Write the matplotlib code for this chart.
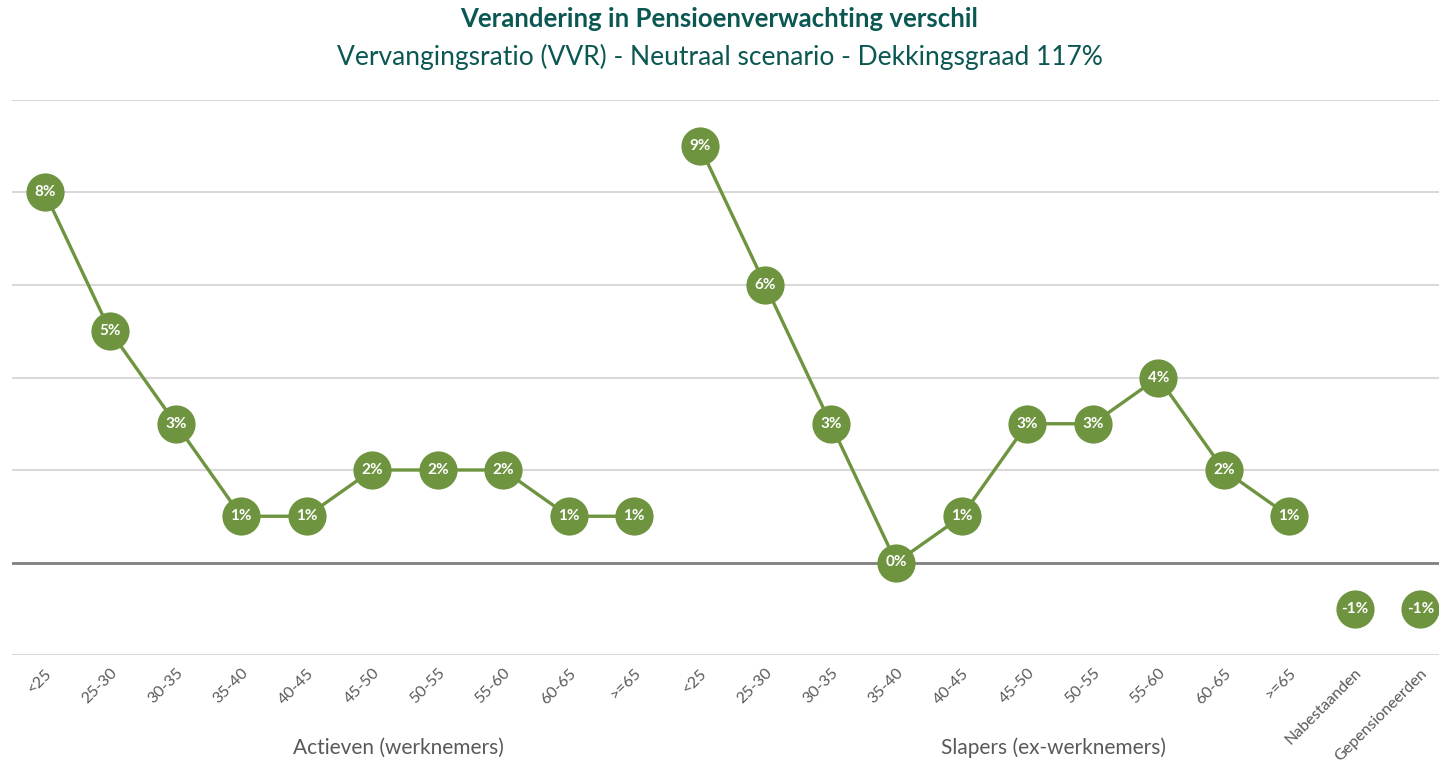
import matplotlib
matplotlib.use("Agg")
import matplotlib.pyplot as plt
import numpy as np

plt.rcParams['font.family'] = ['Lato', 'DejaVu Sans']

categories = ["<25", "25-30", "30-35", "35-40", "40-45", "45-50", "50-55", "55-60", "60-65", ">=65",
              "<25", "25-30", "30-35", "35-40", "40-45", "45-50", "50-55", "55-60", "60-65", ">=65",
              "Nabestaanden", "Gepensioneerden"]
actieven = [8, 5, 3, 1, 1, 2, 2, 2, 1, 1]
slapers = [9, 6, 3, 0, 1, 3, 3, 4, 2, 1]
nabestaanden = [-1]
gepensioneerden = [-1]
groups = ["Actieven (werknemers)", "Slapers (ex-werknemers)"]

GREEN = "#6E9440"
TEAL = "#0B5752"
W, H = 1439, 775
fig = plt.figure(figsize=(W / 100, H / 100), dpi=100)
left = 12 / W
ax = fig.add_axes([left, (H - 655) / H, 1441 / W, (655 - 100) / H])
ax.set_xlim(-0.5, len(categories) - 0.5)
ax.set_ylim(-2, 10)

for y in np.arange(-2, 11, 2):
    if y != 0:
        ax.axhline(y, color="#d9d9d9", lw=1.5, zorder=0)
ax.axhline(0, color="#808080", lw=2, zorder=1)

def series(xs, ys, line=True):
    ax.plot(xs, ys, color=GREEN, lw=2.4 if line else 0, marker="o", ms=27.5,
            markeredgewidth=0, zorder=3, clip_on=False)
    for x, y in zip(xs, ys):
        ax.text(x, y, f"{y}%", color="white", fontsize=11, fontweight="bold",
                ha="center", va="center", zorder=4)

n = len(actieven)
series(np.arange(n), actieven)
series(np.arange(n, 2 * n), slapers)
series([2 * n], nabestaanden, line=False)
series([2 * n + 1], gepensioneerden, line=False)

ax.set_xticks(np.arange(len(categories)))
ax.set_xticklabels(categories, rotation=45, ha="right", rotation_mode="anchor",
                   fontsize=11.5, color="#595959")
ax.tick_params(axis="x", length=0, pad=8)
ax.set_yticks([])
for s in ax.spines.values():
    s.set_visible(False)

for i, g in enumerate(groups):
    xc = i * n + (n - 1) / 2 + 0.9
    ax.text(xc, -4.0, g, ha="center", va="center", fontsize=15, color="#595959",
            transform=ax.transData, clip_on=False)

fig.text(0.5, 1 - 19 / H, "Verandering in Pensioenverwachting verschil", ha="center", va="center",
         fontsize=18.5, fontweight="bold", color=TEAL)
fig.text(0.5, 1 - 57 / H, "Vervangingsratio (VVR) - Neutraal scenario - Dekkingsgraad 117%",
         ha="center", va="center", fontsize=19, color=TEAL)

fig.savefig("out.png", dpi=100)
